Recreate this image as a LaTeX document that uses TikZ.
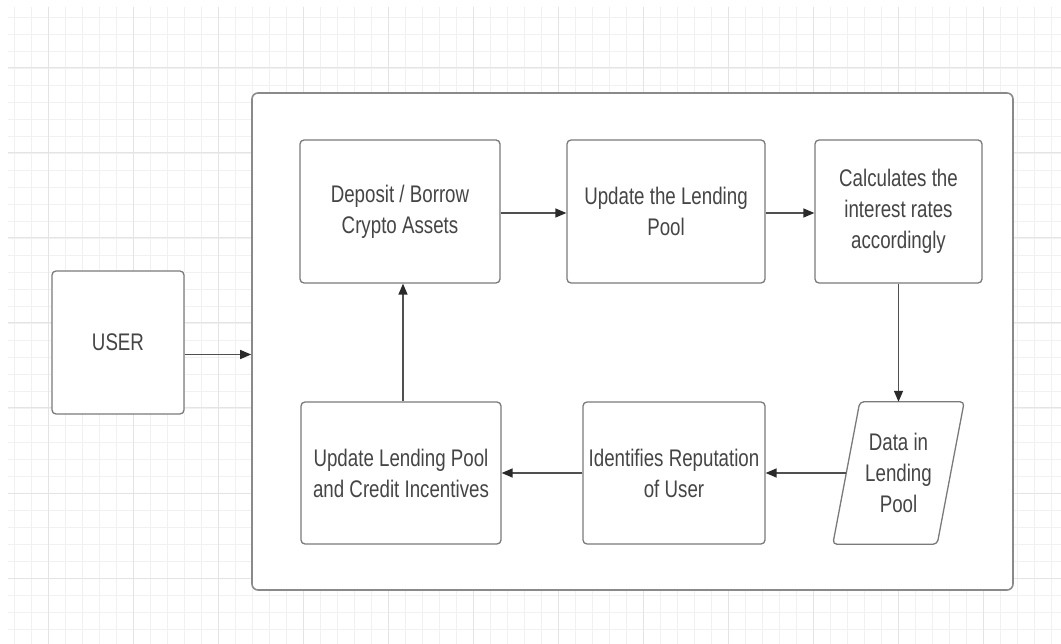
\documentclass[tikz,border=0pt]{standalone}
\usepackage{fontspec}
\setmainfont{Liberation Sans}[FakeStretch=0.78]
\usetikzlibrary{arrows.meta}
\definecolor{gridminor}{HTML}{F1F1F1}
\definecolor{gridmajor}{HTML}{E4E4E4}
\definecolor{boxline}{HTML}{7A7A7A}
\definecolor{frameline}{HTML}{8A8A8A}
\definecolor{txt}{HTML}{454545}
\definecolor{arrowline}{HTML}{505050}
\definecolor{arrowhead}{HTML}{2A2A2A}
\tikzset{
  stepbox/.style={draw=boxline, line width=1.3pt, rounded corners=4pt, fill=white,
    text=txt, align=center, inner sep=0pt,
    font=\fontsize{24}{31}\selectfont},
  flow/.style={draw=arrowline, line width=1.4pt,
    -{Triangle[length=11pt,width=9pt,color=arrowhead]}},
}
\begin{document}
\begin{tikzpicture}[x=1pt,y=-1pt]
\useasboundingbox (0,0) rectangle (1061,644);
\fill[white] (0,0) rectangle (1061,644);
% background grid
\foreach \gx in {14,31,...,1061} \draw[gridminor, line width=0.8pt] (\gx,7) -- (\gx,644);
\foreach \gy in {17,34,...,644} \draw[gridminor, line width=0.8pt] (8,\gy) -- (1061,\gy);
\foreach \gx in {48,133,...,1061} \draw[gridmajor, line width=1pt] (\gx,7) -- (\gx,644);
\foreach \gy in {68,153,...,644} \draw[gridmajor, line width=1pt] (8,\gy) -- (1061,\gy);

% outer frame
\node[draw=frameline, line width=1.6pt, rounded corners=6pt, fill=white,
  minimum width=761pt, minimum height=497pt, inner sep=0pt] (frame) at (632.5,341.5) {};

% user
\node[stepbox, minimum width=132pt, minimum height=143pt] (user) at (118,342.5) {USER};

% top row
\node[stepbox, minimum width=200pt, minimum height=143pt] (deposit) at (400,211.5) {Deposit / Borrow\\Crypto Assets};
\node[stepbox, minimum width=198pt, minimum height=143pt] (update) at (666,211.5) {Update the Lending\\Pool};
\node[stepbox, minimum width=167pt, minimum height=143pt] (calc) at (898.5,211.5) {Calculates the\\interest rates\\accordingly};

% bottom row
\node[stepbox, minimum width=200pt, minimum height=142pt] (credit) at (401,473) {Update Lending Pool\\and Credit Incentives};
\node[stepbox, minimum width=182pt, minimum height=142pt] (ident) at (674,473) {Identifies Reputation\\of User};

% data store (parallelogram)
\node[minimum width=104pt, minimum height=142pt, inner sep=0pt] (data) at (898.5,473) {};
\draw[draw=boxline, line width=1.3pt, rounded corners=4pt, fill=white]
  ([xshift=13.5pt]data.north west) -- ([xshift=13.5pt]data.north east)
  -- ([xshift=-13.5pt]data.south east) -- ([xshift=-13.5pt]data.south west) -- cycle;
\node[text=txt, align=center, font=\fontsize{24}{31}\selectfont] at (data.center) {Data in\\Lending\\Pool};

% connectors
\draw[flow] ([yshift=-12pt]user.east) -- ([yshift=-12pt]user.east -| frame.west);
\draw[flow] ([yshift=-1.5pt]deposit.east) -- ([yshift=-1.5pt]update.west);
\draw[flow] ([yshift=-1.5pt]update.east) -- ([yshift=-1.5pt]calc.west);
\draw[flow] (calc.south) -- (data.north);
\draw[flow] (data.west) -- (ident.east);
\draw[flow] (ident.west) -- (credit.east);
\draw[flow] ([xshift=2pt]credit.north) -- ([xshift=2pt]credit.north |- deposit.south);
\end{tikzpicture}
\end{document}
